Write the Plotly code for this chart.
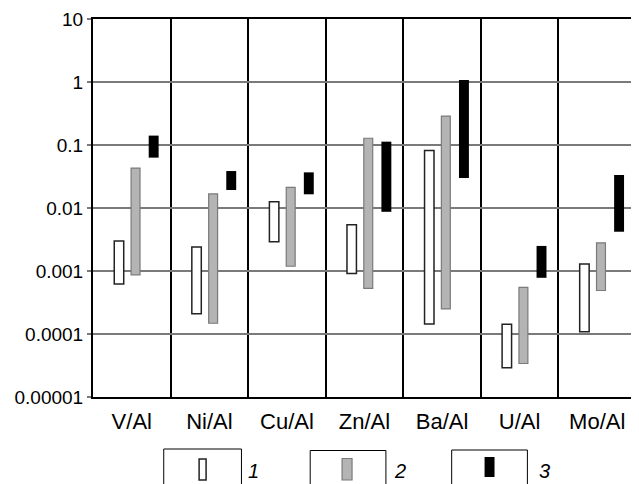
import plotly.graph_objects as go

categories = ["V/Al", "Ni/Al", "Cu/Al", "Zn/Al", "Ba/Al", "U/Al", "Mo/Al"]

# Series 1 (white) ranges
s1_low = [0.00062, 0.00021, 0.0029, 0.00091, 0.000144, 0.000029, 0.000109]
s1_high = [0.0030, 0.0024, 0.0126, 0.0054, 0.082, 0.000143, 0.00129]
# Series 2 (grey) ranges
s2_low = [0.00087, 0.000148, 0.00119, 0.00053, 0.00025, 0.000034, 0.00049]
s2_high = [0.043, 0.0167, 0.0213, 0.128, 0.288, 0.00055, 0.0028]
# Series 3 (black) ranges
s3_low = [0.063, 0.0193, 0.0165, 0.0087, 0.030, 0.00078, 0.0042]
s3_high = [0.141, 0.0386, 0.0368, 0.113, 1.08, 0.0025, 0.0334]

series_names = ["1", "2", "3"]

tick_vals = [0.00001, 0.0001, 0.001, 0.01, 0.1, 1, 10]
tick_text = ["0.00001", "0.0001", "0.001", "0.01", "0.1", "1", "10"]

FONT = "Liberation Sans, Arial, sans-serif"

def spans(lo, hi):
    return [h - l for l, h in zip(lo, hi)]

fig = go.Figure()
styles = [
    dict(fill="white", line="#222222", lw=1.5, offset=-0.226, width=0.122),
    dict(fill="#b4b4b4", line="#7a7a7a", lw=1.2, offset=-0.009, width=0.115),
    dict(fill="black", line="black", lw=0, offset=0.218, width=0.128),
]
for name, lo, hi, st in zip(series_names, [s1_low, s2_low, s3_low],
                            [s1_high, s2_high, s3_high], styles):
    fig.add_trace(go.Bar(
        x=categories, y=spans(lo, hi), base=lo, name=name,
        offset=st["offset"], width=st["width"],
        marker=dict(color=st["fill"], line=dict(color=st["line"], width=st["lw"])),
        showlegend=False,
    ))

# page has an 8px body margin; compensate
OFF = 8
W, H = 639 - OFF, 484 - OFF
L, T = 93 - OFF, 19 - OFF
R = W - (638 - OFF)
B = H - (397 - OFF)
pw = W - L - R
ph = H - T - B

def px(x):
    return (x - OFF - L) / pw

def py(y):
    return (H - B - (y - OFF)) / ph

shapes = []
annotations = []
legend_items = [
    dict(box=(164, 242, 449), icon=(199.5, 206.5, 459, 480), fill="white", line="#222222", lw=1.5, lab_x=254),
    dict(box=(311, 387, 450.5), icon=(343, 353, 458.5, 480), fill="#b4b4b4", line="#7a7a7a", lw=1.2, lab_x=401),
    dict(box=(453, 529, 450), icon=(486, 496, 457, 477), fill="black", line="black", lw=0, lab_x=546),
]
for item, name in zip(legend_items, series_names):
    x0, x1, y0 = item["box"]
    shapes.append(dict(type="rect", xref="paper", yref="paper",
                       x0=px(x0), x1=px(x1), y0=py(y0), y1=py(495),
                       line=dict(color="black", width=1), fillcolor="rgba(0,0,0,0)"))
    ix0, ix1, iy0, iy1 = item["icon"]
    shapes.append(dict(type="rect", xref="paper", yref="paper",
                       x0=px(ix0), x1=px(ix1), y0=py(iy0), y1=py(iy1),
                       line=dict(color=item["line"], width=item["lw"]),
                       fillcolor=item["fill"]))
    annotations.append(dict(xref="paper", yref="paper", x=px(item["lab_x"]), y=py(471),
                            text="<i>" + name + "</i>", showarrow=False,
                            xanchor="center", yanchor="middle",
                            font=dict(family=FONT, size=20, color="black")))

fig.update_layout(
    width=W, height=H,
    margin=dict(l=L, r=R, t=T, b=B, pad=0),
    paper_bgcolor="white", plot_bgcolor="white",
    barmode="overlay",
    font=dict(family=FONT, color="black"),
    shapes=shapes,
    annotations=annotations,
    xaxis=dict(
        type="category", range=[-0.5, 6.5], tickson="boundaries",
        showgrid=True, gridcolor="black", gridwidth=2,
        showline=True, linecolor="black", linewidth=2, mirror=True,
        ticks="", tickfont=dict(family=FONT, size=22, color="black"),
        ticklabelstandoff=4, zeroline=False,
    ),
    yaxis=dict(
        type="log", range=[-5, 1],
        tickvals=tick_vals, ticktext=tick_text,
        showgrid=True, gridcolor="#7a7a7a", gridwidth=2,
        showline=True, linecolor="black", linewidth=2, mirror=True,
        ticks="outside", ticklen=4, tickwidth=2, tickcolor="#7a7a7a",
        tickfont=dict(family=FONT, size=19, color="black"),
        zeroline=False,
    ),
)

fig.write_html("out.html")
